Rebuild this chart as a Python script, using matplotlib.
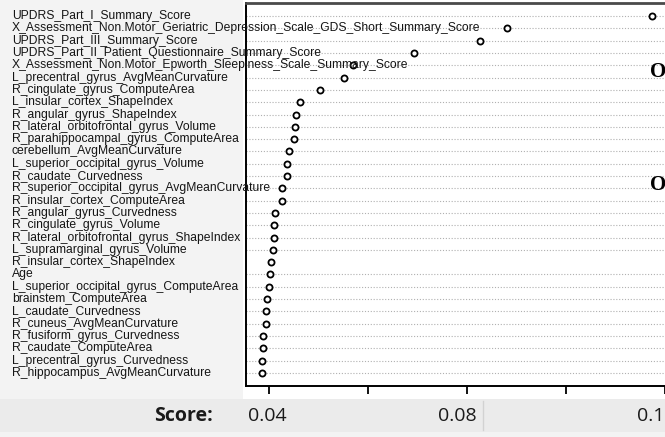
import matplotlib
matplotlib.use('Agg')
import matplotlib.pyplot as plt
import matplotlib.transforms as mtransforms
from matplotlib.patches import Rectangle

# feature names, sorted by score (top to bottom)
features = [
    'UPDRS_Part_I_Summary_Score',
    'X_Assessment_Non.Motor_Geriatric_Depression_Scale_GDS_Short_Summary_Score',
    'UPDRS_Part_III_Summary_Score',
    'UPDRS_Part_II_Patient_Questionnaire_Summary_Score',
    'X_Assessment_Non.Motor_Epworth_Sleepiness_Scale_Summary_Score',
    'L_precentral_gyrus_AvgMeanCurvature',
    'R_cingulate_gyrus_ComputeArea',
    'L_insular_cortex_ShapeIndex',
    'R_angular_gyrus_ShapeIndex',
    'R_lateral_orbitofrontal_gyrus_Volume',
    'R_parahippocampal_gyrus_ComputeArea',
    'cerebellum_AvgMeanCurvature',
    'L_superior_occipital_gyrus_Volume',
    'R_caudate_Curvedness',
    'R_superior_occipital_gyrus_AvgMeanCurvature',
    'R_insular_cortex_ComputeArea',
    'R_angular_gyrus_Curvedness',
    'R_cingulate_gyrus_Volume',
    'R_lateral_orbitofrontal_gyrus_ShapeIndex',
    'L_supramarginal_gyrus_Volume',
    'R_insular_cortex_ShapeIndex',
    'Age',
    'L_superior_occipital_gyrus_ComputeArea',
    'brainstem_ComputeArea',
    'L_caudate_Curvedness',
    'R_cuneus_AvgMeanCurvature',
    'R_fusiform_gyrus_Curvedness',
    'R_caudate_ComputeArea',
    'L_precentral_gyrus_Curvedness',
    'R_hippocampus_AvgMeanCurvature',
]
scores = [
    0.1174, 0.0881, 0.0826, 0.0693, 0.0570, 0.0552, 0.0503, 0.0463,
    0.0455, 0.0453, 0.0451, 0.0440, 0.0437, 0.0436, 0.0427, 0.0426,
    0.0412, 0.0411, 0.0410, 0.0408, 0.0404, 0.0402, 0.0401, 0.0396,
    0.0394, 0.0393, 0.0388, 0.0387, 0.0386, 0.0386,
]
xticks = [0.04, 0.06, 0.08, 0.10, 0.12]
score_labels = ['0.04', '0.08', '0.1']

W, H = 665, 437
fig = plt.figure(figsize=(W / 100, H / 100), dpi=100)
fig.patch.set_facecolor('#f3f3f3')


def fx(px):
    return px / W


def fy(py):
    return 1 - py / H


# white panel behind the plot, grey strip at the bottom
fig.add_artist(Rectangle((fx(243), fy(399)), fx(W - 243), 399 / H,
                         transform=fig.transFigure, facecolor='white',
                         edgecolor='none', zorder=-10))
fig.add_artist(Rectangle((0, fy(432)), 1, 33 / H, transform=fig.transFigure,
                         facecolor='#ebebeb', edgecolor='none', zorder=-10))
fig.add_artist(plt.Line2D([fx(483), fx(483)], [fy(401), fy(430)],
                          transform=fig.transFigure, color='#d2d2d2', lw=1))

# axes: 0.04 at x=269px, 0.02 per 99px
left, right, top, bottom = 246, 690, 3, 386
ax = fig.add_axes([fx(left), fy(bottom), fx(right - left), (bottom - top) / H])
ax.set_facecolor('white')
ax.set_xlim(0.04 - (269 - left) / 4950, 0.04 + (right - 269) / 4950)
n = len(features)
ax.set_ylim(n - 1 + 1.06, -1.06)

for i, (lab, s) in enumerate(zip(features, scores)):
    if lab != 'R_insular_cortex_ShapeIndex':
        ax.axhline(i, color='#b0b0b0', lw=0.8, ls=(0, (1, 1.6)), zorder=1)
ax.plot(scores, range(n), 'o', ms=4.4, mfc='white', mec='black', mew=1.3,
        zorder=3)

for side in ['left', 'bottom']:
    ax.spines[side].set_linewidth(1.4)
ax.spines['top'].set_linewidth(2)
ax.spines['top'].set_color('#4a4a4a')
ax.spines['right'].set_visible(False)
ax.set_yticks([])
ax.set_xticks(xticks)
ax.set_xticklabels([])
ax.tick_params(axis='x', direction='out', length=6, width=1.3)

# labels drawn over the panel
trans = mtransforms.blended_transform_factory(fig.transFigure, ax.transData)
for i, lab in enumerate(features):
    fig.text(fx(12), i, lab, transform=trans, ha='left', va='center',
             fontsize=8.75, family='Liberation Sans', color='#151515')

# big letters cut at the right edge
for py in [72, 185]:
    fig.text(fx(650), fy(py), 'O', ha='left', va='center', fontsize=15,
             family='Liberation Serif', fontweight='bold')

# score row at the bottom
fig.text(fx(213), fy(416), 'Score:', ha='right', va='center', fontsize=14,
         family='Open Sans', fontweight='bold', color='#1a1a1a')
fig.text(fx(248), fy(416), score_labels[0], ha='left', va='center',
         fontsize=14, family='Open Sans', color='#1a1a1a')
fig.text(fx(477), fy(416), score_labels[1], ha='right', va='center',
         fontsize=14, family='Open Sans', color='#1a1a1a')
fig.text(fx(664), fy(416), score_labels[2], ha='right', va='center',
         fontsize=14, family='Open Sans', color='#1a1a1a')

fig.savefig('out.png', dpi=100, facecolor=fig.get_facecolor())
